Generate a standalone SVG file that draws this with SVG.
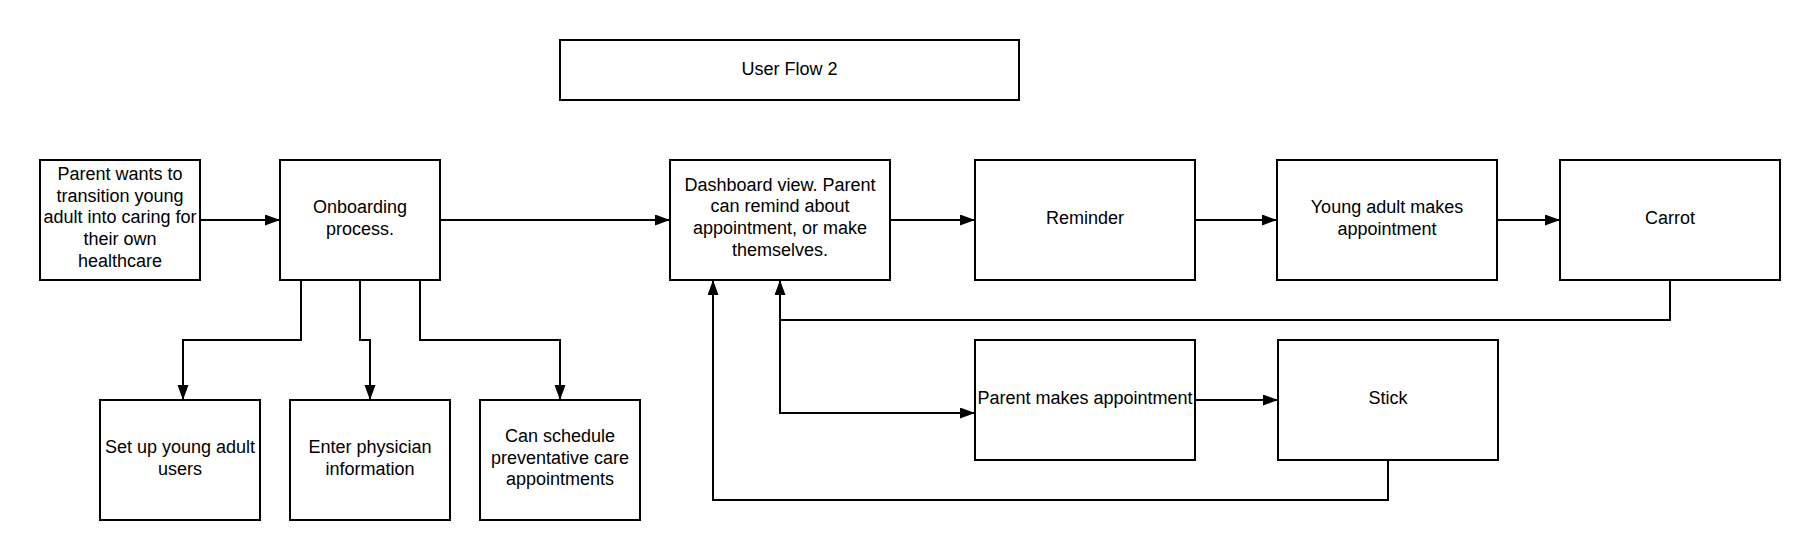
<svg xmlns="http://www.w3.org/2000/svg" width="1820" height="560" viewBox="0 0 1820 560">
<style>
.box{fill:#fff;stroke:#000;stroke-width:2}
.t{font-family:"Liberation Sans",Arial,sans-serif;font-size:18px;fill:#000;text-anchor:middle}
.c{fill:none;stroke:#000;stroke-width:2}
</style>
<defs>
<marker id="ah" markerUnits="userSpaceOnUse" markerWidth="16" markerHeight="12" refX="15" refY="5.5" orient="auto">
<path d="M0,0 L15,5.5 L0,11 z" fill="#000"/>
</marker>
</defs>
<rect width="1820" height="560" fill="#fff"/>
<g id="title"><rect class="box" x="560" y="40" width="459" height="60"/><text class="t" x="789.5" y="75">User Flow 2</text></g>
<g id="connectors">
<path class="c" d="M200,220 H280" marker-end="url(#ah)"/>
<path class="c" d="M440,220 H670" marker-end="url(#ah)"/>
<path class="c" d="M890,220 H975" marker-end="url(#ah)"/>
<path class="c" d="M1195,220 H1277" marker-end="url(#ah)"/>
<path class="c" d="M1497,220 H1560" marker-end="url(#ah)"/>
<path class="c" d="M301,280 V340 H183 V400" marker-end="url(#ah)"/>
<path class="c" d="M360,280 V340 H370 V400" marker-end="url(#ah)"/>
<path class="c" d="M420,280 V340 H560 V400" marker-end="url(#ah)"/>
<path class="c" d="M1670,280 V320 H780 V280" marker-end="url(#ah)"/>
<path class="c" d="M780,280 V413 H975" marker-end="url(#ah)"/>
<path class="c" d="M1195,400 H1278" marker-end="url(#ah)"/>
<path class="c" d="M1388,460 V500 H713 V280" marker-end="url(#ah)"/>
</g>
<g id="n1"><rect class="box" x="40" y="160" width="160" height="120"/><text class="t"><tspan x="120" y="180">Parent wants to</tspan><tspan x="120" y="201.7">transition young</tspan><tspan x="120" y="223.4">adult into caring for</tspan><tspan x="120" y="245.1">their own</tspan><tspan x="120" y="266.8">healthcare</tspan></text></g>
<g id="n2"><rect class="box" x="280" y="160" width="160" height="120"/><text class="t"><tspan x="360" y="213.4">Onboarding</tspan><tspan x="360" y="235.1">process.</tspan></text></g>
<g id="n3"><rect class="box" x="670" y="160" width="220" height="120"/><text class="t"><tspan x="780" y="190.8">Dashboard view. Parent</tspan><tspan x="780" y="212.4">can remind about</tspan><tspan x="780" y="234.1">appointment, or make</tspan><tspan x="780" y="255.8">themselves.</tspan></text></g>
<g id="n4"><rect class="box" x="975" y="160" width="220" height="120"/><text class="t" x="1085" y="224">Reminder</text></g>
<g id="n5"><rect class="box" x="1277" y="160" width="220" height="120"/><text class="t"><tspan x="1387" y="213.4">Young adult makes</tspan><tspan x="1387" y="235.1">appointment</tspan></text></g>
<g id="n6"><rect class="box" x="1560" y="160" width="220" height="120"/><text class="t" x="1670" y="224">Carrot</text></g>
<g id="n7"><rect class="box" x="975" y="340" width="220" height="120"/><text class="t" x="1085" y="404">Parent makes appointment</text></g>
<g id="n8"><rect class="box" x="1278" y="340" width="220" height="120"/><text class="t" x="1388" y="404">Stick</text></g>
<g id="n9"><rect class="box" x="100" y="400" width="160" height="120"/><text class="t"><tspan x="180" y="453.4">Set up young adult</tspan><tspan x="180" y="475.1">users</tspan></text></g>
<g id="n10"><rect class="box" x="290" y="400" width="160" height="120"/><text class="t"><tspan x="370" y="453.4">Enter physician</tspan><tspan x="370" y="475.1">information</tspan></text></g>
<g id="n11"><rect class="box" x="480" y="400" width="160" height="120"/><text class="t"><tspan x="560" y="441.8">Can schedule</tspan><tspan x="560" y="463.5">preventative care</tspan><tspan x="560" y="485.2">appointments</tspan></text></g>
</svg>
